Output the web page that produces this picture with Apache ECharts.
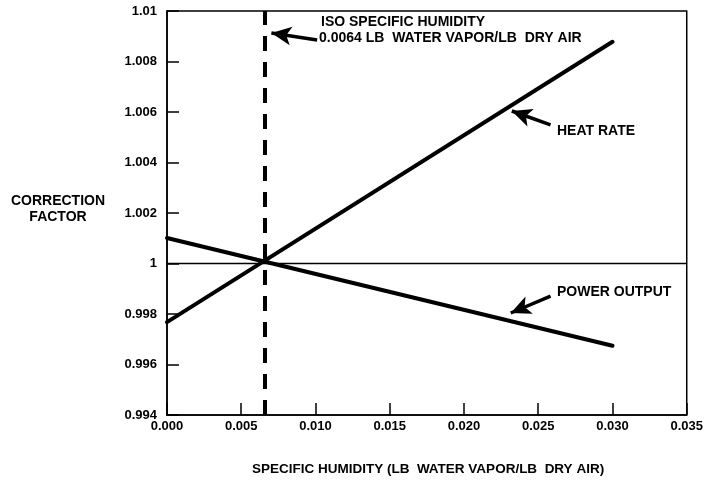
<!DOCTYPE html>
<html>
<head>
<meta charset="utf-8">
<script src="https://cdn.jsdelivr.net/npm/echarts@6/dist/echarts.min.js"></script>
<style>html,body{margin:0;padding:0;background:#fff}#c{width:706px;height:480px}</style>
</head>
<body>
<div id="c"></div>
<script>
// Data
var heatRateX = [0.000, 0.030];
var heatRateY = [0.99768, 1.00878];
var powerOutputX = [0.000, 0.030];
var powerOutputY = [1.00101, 0.99674];
var isoHumidity = 0.0066;
var refLineY = 1.0;
var xMin = 0, xMax = 0.035, xStep = 0.005;
var yMin = 0.994, yMax = 1.01, yStep = 0.002;
var isoArrow = [[0.01011, 1.00885], [0.00703, 1.00913]];
var heatArrow = [[0.02583, 1.00549], [0.02322, 1.00604]];
var powerArrow = [[0.02583, 0.99871], [0.02315, 0.99804]];
var texts = {
  iso1: 'ISO SPECIFIC HUMIDITY',
  iso2: '0.0064 LB  WATER VAPOR/LB  DRY AIR',
  heat: 'HEAT RATE',
  power: 'POWER OUTPUT',
  xTitle: 'SPECIFIC HUMIDITY (LB  WATER VAPOR/LB  DRY AIR)',
  yTitle: 'CORRECTION\nFACTOR'
};

var FONT = 'Liberation Sans, Arial, sans-serif';
function pairs(xs, ys){ return xs.map(function(x,i){ return [x, ys[i]]; }); }
function arrowML(a){
  return {
    silent: true, symbol: ['none','arrow'], symbolSize: [14, 20],
    lineStyle: {color:'#000', width: 3.5, type:'solid'}, label:{show:false},
    data: [[{coord: a[0]}, {coord: a[1]}]]
  };
}

var chart = echarts.init(document.getElementById('c'));
chart.setOption({
  animation: false,
  backgroundColor: '#fff',
  grid: {left: 167, right: 16, top: 11, bottom: 65, show: true, borderColor: '#000', borderWidth: 1.5},
  xAxis: {
    type: 'value', min: xMin, max: xMax, interval: xStep,
    axisLine: {show: true, lineStyle: {color: '#000', width: 1.5}},
    axisTick: {show: true, inside: true, length: 12, lineStyle: {color: '#000', width: 1.5}},
    splitLine: {show: false},
    axisLabel: {color: '#000', fontFamily: FONT, fontWeight: 'bold', fontSize: 13, margin: 5,
      formatter: function(v){ return v.toFixed(3); }}
  },
  yAxis: {
    type: 'value', min: yMin, max: yMax, interval: yStep,
    axisLine: {show: true, lineStyle: {color: '#000', width: 1.5}},
    axisTick: {show: true, inside: true, length: 12, lineStyle: {color: '#000', width: 1.5}},
    splitLine: {show: false},
    axisLabel: {color: '#000', fontFamily: FONT, fontWeight: 'bold', fontSize: 13, margin: 10,
      formatter: function(v){ return String(+v.toFixed(3)); }}
  },
  series: [
    {type: 'line', name: 'ref', data: [[xMin, refLineY], [xMax, refLineY]], symbol: 'none',
      lineStyle: {color: '#000', width: 1.5}, z: 2},
    {type: 'line', name: 'iso', data: [[isoHumidity, yMin], [isoHumidity, yMax]], symbol: 'none',
      lineStyle: {color: '#000', width: 4, type: [15, 11]}, z: 3},
    {type: 'line', name: 'Heat rate', data: pairs(heatRateX, heatRateY), symbol: 'none',
      lineStyle: {color: '#000', width: 4, cap: 'round'}, z: 4, markLine: arrowML(heatArrow)},
    {type: 'line', name: 'Power output', data: pairs(powerOutputX, powerOutputY), symbol: 'none',
      lineStyle: {color: '#000', width: 4, cap: 'round'}, z: 4, markLine: arrowML(powerArrow)},
    {type: 'line', name: 'isoArrowHolder', data: [], markLine: arrowML(isoArrow)}
  ],
  graphic: [
    {type: 'text', left: 321, top: 15, style: {text: texts.iso1, font: 'bold 14px ' + FONT, fill: '#000'}},
    {type: 'text', left: 319, top: 31, style: {text: texts.iso2, font: 'bold 14px ' + FONT, fill: '#000'}},
    {type: 'text', left: 557, top: 124, style: {text: texts.heat, font: 'bold 14px ' + FONT, fill: '#000'}},
    {type: 'text', left: 557, top: 285, style: {text: texts.power, font: 'bold 14px ' + FONT, fill: '#000'}},
    {type: 'text', x: 428, y: 469, style: {text: texts.xTitle, font: 'bold 13.5px ' + FONT, fill: '#000', textAlign: 'center', textVerticalAlign: 'middle'}},
    {type: 'text', x: 58, y: 209, style: {text: texts.yTitle, font: 'bold 14px ' + FONT, fill: '#000', textAlign: 'center', textVerticalAlign: 'middle', lineHeight: 16}}
  ]
});
</script>
</body>
</html>
